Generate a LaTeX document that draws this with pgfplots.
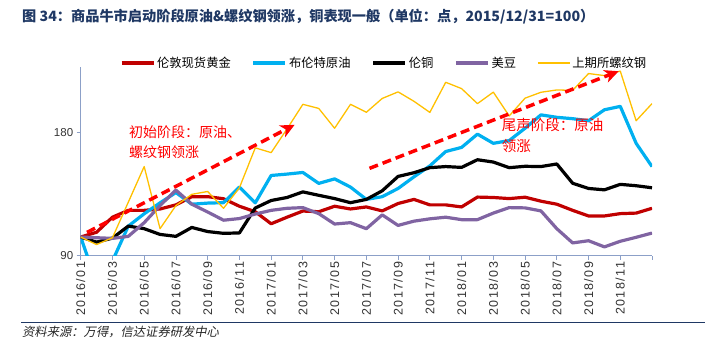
\documentclass[border=0pt]{standalone}
\usepackage{pgfplots}
\pgfplotsset{compat=1.18}
\usepackage{pgfplotstable}
\usepackage{fontspec}
\setmainfont{Liberation Sans}
\newfontfamily\tickfont[LetterSpace=12]{Liberation Sans}
\newfontfamily\cjk{Noto Sans CJK SC}
\newfontfamily\cjksl[FakeSlant=0.2]{Noto Sans CJK SC}
\usetikzlibrary{arrows.meta}
\definecolor{cgold}{RGB}{192,0,0}
\definecolor{cbrent}{RGB}{0,176,240}
\definecolor{csoy}{RGB}{128,100,162}
\definecolor{crebar}{RGB}{255,192,0}
\definecolor{axc}{RGB}{140,160,200}
\definecolor{navy}{RGB}{31,56,100}
\pgfplotstableread{
i gold brent copper soy rebar
0 103.5 103.5 103.5 103.5 103.5
1 107 70 99.8 103 98
2 118 86 102.7 102.5 103
3 123 111.5 111.5 104 129
4 123 120.5 109.6 114 155
5 124 128.5 105.4 126.5 109.6
6 127 136 104 137.8 126.5
7 133 127.5 110.5 127.5 134.7
8 133 128.3 107.5 121.8 136.8
9 131.5 128.6 106.2 115.8 124.5
10 126 140 106.5 117 139.5
11 122 128.5 124.7 120.3 168.7
12 113.2 148.5 130.2 123 165.2
13 118 149.5 132.4 124.5 182.5
14 122.5 150.7 136.5 125 200.5
15 122 142.7 134 120.6 197.5
16 126 146 131.6 113 183
17 124 140 128.6 114 200.5
18 125.5 131 131 109.6 194.7
19 122.6 133 137.3 119.7 204.8
20 128 139 147.8 112 209.6
21 131 147.5 150.5 115.1 202.7
22 127 155.5 154.2 116.8 194.6
23 127 166 155 118 216.6
24 125.5 169 154.4 116.2 212
25 132.7 178.7 160 116.2 201
26 132.4 172 158.3 121 209.4
27 131.6 174 154.2 125 192
28 132.6 183 155.2 124.8 205
29 129.7 192.8 155 122.6 209.3
30 127.5 191 156.9 109.6 211
31 123 190 142.8 99.2 210.7
32 118.9 188.5 139 100.8 223
33 118.9 196.5 138 96.3 221.5
34 120.6 199 142 100.4 224.8
35 121 172 141 103.3 188.5
36 124.5 155 139.5 106.4 201
}\datatable
\begin{document}
\begin{tikzpicture}[x=1bp,y=1bp]
\useasboundingbox (0,0) rectangle (708,347);
\node[anchor=west, inner sep=0pt, text=navy, font=\cjk\bfseries\fontsize{14.2bp}{16bp}\selectfont] at (22,330) {图 34：商品牛市启动阶段原油\&螺纹钢领涨，铜表现一般（单位：点，2015/12/31=100）};
\begin{axis}[
  at={(80.7bp,91.5bp)}, anchor=south west, scale only axis,
  width=571.3bp, height=188.8bp,
  xmin=0, xmax=36, ymin=90, ymax=228,
  axis x line*=bottom, axis y line*=left,
  axis line style={-, draw=axc, line width=0.8bp},
  tick style={draw=axc, line width=0.8bp},
  major tick length=4bp, tick align=outside,
  xtick={0,2,...,36},
  xticklabels={2016/01,2016/03,2016/05,2016/07,2016/09,2016/11,2017/01,2017/03,2017/05,2017/07,2017/09,2017/11,2018/01,2018/03,2018/05,2018/07,2018/09,2018/11,{}},
  xticklabel style={rotate=90, anchor=east, inner sep=2bp, font=\tickfont\fontsize{12.5bp}{13bp}\selectfont, text=black!80},
  ytick={90,180},
  yticklabel style={font=\fontsize{11.5bp}{12bp}\selectfont, text=black!80},
  /pgf/number format/assume math mode=true,
  clip mode=individual,
  legend style={at={(rel axis cs:0.531,1.02)}, anchor=center, draw=none, fill=none,
    legend columns=5, font=\cjk\fontsize{12.3bp}{14bp}\selectfont,
    /tikz/every even column/.append style={column sep=19bp}, inner sep=0pt},
  legend image code/.code={\draw[#1] (0bp,0bp) -- (32bp,0bp);},
]
\addplot[cgold, line width=3.2bp, line join=round] table[x=i,y=gold] {\datatable};
\addlegendentry{伦敦现货黄金}
\addplot[cbrent, line width=3.2bp, line join=round] table[x=i,y=brent] {\datatable};
\addlegendentry{布伦特原油}
\addplot[black, line width=3.2bp, line join=round] table[x=i,y=copper] {\datatable};
\addlegendentry{伦铜}
\addplot[csoy, line width=3.2bp, line join=round] table[x=i,y=soy] {\datatable};
\addlegendentry{美豆}
\addplot[crebar, line width=1.3bp, line join=round] table[x=i,y=rebar] {\datatable};
\addlegendentry{上期所螺纹钢}
\draw[red, line width=3.5bp, dash pattern=on 9bp off 5bp, -{Stealth[length=14bp,width=13bp,inset=4bp]}] (axis cs:0.4,106.9) -- (axis cs:13.48,185.5);
\draw[red, line width=3.5bp, dash pattern=on 9bp off 5bp, -{Stealth[length=14bp,width=13bp,inset=4bp]}] (axis cs:18.2,153.7) -- (axis cs:33.9,224.7);
\end{axis}
\node[anchor=west, inner sep=0pt, text=red, align=left, font=\cjk\fontsize{14bp}{20bp}\selectfont] at (129,205.3) {初始阶段：原油、\\螺纹钢领涨};
\node[anchor=west, inner sep=0pt, text=red, align=left, font=\cjk\fontsize{14.5bp}{21bp}\selectfont] at (501.7,211.5) {尾声阶段：原油\\领涨};
\draw[navy, line width=1.5bp] (21,24.3) -- (705,24.3);
\node[anchor=west, inner sep=0pt, text=black!85, font=\cjksl\fontsize{12.3bp}{14bp}\selectfont] at (22,15.3) {资料来源：万得，信达证券研发中心};
\end{tikzpicture}
\end{document}
